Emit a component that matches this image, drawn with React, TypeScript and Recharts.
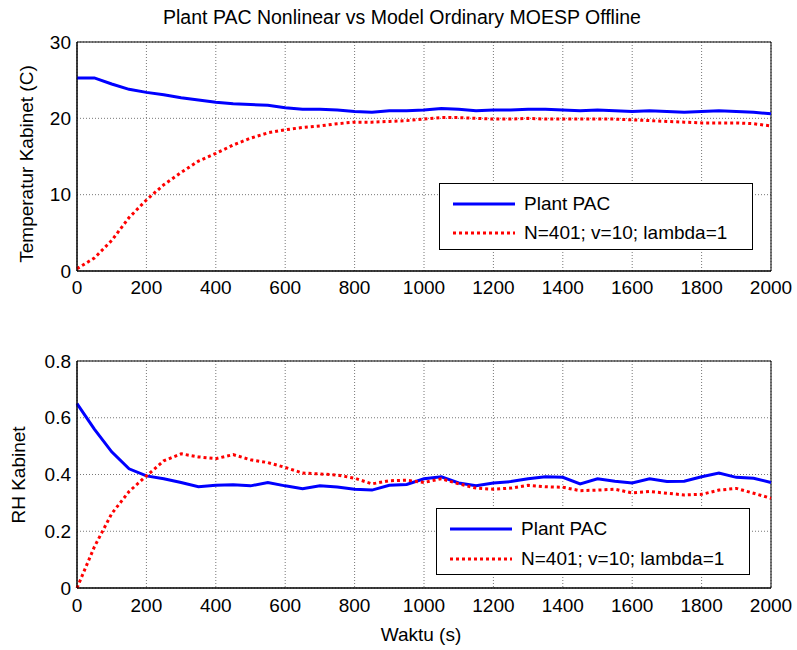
import { LineChart, Line, XAxis, YAxis, CartesianGrid, Legend, ReferenceArea } from 'recharts'

// time grid, every 50 s
const times = Array.from({ length: 41 }, (_, i) => i * 50)

const tempPlant = [
  25.3, 25.3, 24.5, 23.8, 23.4, 23.1, 22.7, 22.4, 22.1, 21.9,
  21.8, 21.7, 21.4, 21.2, 21.2, 21.1, 20.9, 20.8, 21.0, 21.0,
  21.1, 21.3, 21.2, 21.0, 21.1, 21.1, 21.2, 21.2, 21.1, 21.0,
  21.1, 21.0, 20.9, 21.0, 20.9, 20.8, 20.9, 21.0, 20.9, 20.8,
  20.6,
]
const tempModel = [
  0.3, 1.7, 4.0, 7.0, 9.3, 11.3, 12.9, 14.4, 15.4, 16.5,
  17.4, 18.1, 18.5, 18.8, 19.0, 19.3, 19.5, 19.5, 19.6, 19.7,
  19.9, 20.1, 20.1, 20.0, 19.9, 19.9, 20.0, 19.9, 19.9, 19.9,
  19.9, 19.9, 19.8, 19.7, 19.6, 19.5, 19.4, 19.4, 19.4, 19.3,
  19.0,
]
const rhPlant = [
  0.65, 0.56, 0.48, 0.42, 0.395, 0.385, 0.372, 0.357, 0.362, 0.364,
  0.36, 0.372, 0.36, 0.35, 0.36, 0.356, 0.348, 0.345, 0.362, 0.365,
  0.385, 0.392, 0.37, 0.36, 0.37, 0.375, 0.385, 0.392, 0.39, 0.367,
  0.385, 0.376, 0.37, 0.385, 0.375, 0.376, 0.392, 0.405, 0.39, 0.387,
  0.372,
]
const rhModel = [
  0.0, 0.145, 0.262, 0.34, 0.395, 0.448, 0.473, 0.462, 0.456, 0.47,
  0.452, 0.442, 0.425, 0.405, 0.402, 0.398, 0.387, 0.367, 0.378, 0.38,
  0.372, 0.385, 0.367, 0.352, 0.348, 0.352, 0.362, 0.357, 0.355, 0.343,
  0.345, 0.348, 0.335, 0.34, 0.334, 0.328, 0.33, 0.345, 0.351, 0.334,
  0.316,
]

const xTicks = [0, 200, 400, 600, 800, 1000, 1200, 1400, 1600, 1800, 2000]
const tempTicks = [0, 10, 20, 30]
const rhTicks = [0, 0.2, 0.4, 0.6, 0.8]
const plantName = 'Plant PAC'
const modelName = 'N=401; v=10; lambda=1'
const legendOrder = ['plant', 'model']

const tempData = times.map((t, i) => ({ t, plant: tempPlant[i], model: tempModel[i] }))
const rhData = times.map((t, i) => ({ t, plant: rhPlant[i], model: rhModel[i] }))

const FONT = '"Liberation Sans", Arial, Helvetica, sans-serif'
const tick = { fontSize: 19, fill: '#000' }
const gridColor = '#777'

function AxisTitle({ tx, ty, text, vertical }: any) {
  return (
    <text
      x={tx}
      y={ty}
      textAnchor="middle"
      dominantBaseline="central"
      transform={vertical ? `rotate(-90 ${tx} ${ty})` : undefined}
      fontSize={19}
      fill="#000"
    >
      {text}
    </text>
  )
}

function LegendBox({ payload, rowTop, rowGap }: any) {
  const items = [...(payload || [])].sort(
    (a: any, b: any) => legendOrder.indexOf(a.dataKey) - legendOrder.indexOf(b.dataKey)
  )
  return (
    <div
      style={{
        width: 314,
        height: 67,
        boxSizing: 'border-box',
        border: '1px solid #000',
        background: '#fff',
        position: 'relative',
      }}
    >
      {items.map((p: any, i: number) => (
        <div
          key={p.value}
          style={{
            position: 'absolute',
            left: 0,
            top: rowTop + i * rowGap - 15,
            height: 30,
            display: 'flex',
            alignItems: 'center',
          }}
        >
          <svg width={84} height={30}>
            <line
              x1={13}
              x2={75}
              y1={15}
              y2={15}
              stroke={p.color}
              strokeWidth={3}
              strokeDasharray={p.dataKey === 'model' ? '3 3' : undefined}
            />
          </svg>
          <span style={{ fontSize: 19, color: '#000', whiteSpace: 'nowrap' }}>{p.value}</span>
        </div>
      ))}
    </div>
  )
}

export default function App() {
  return (
    <div
      style={{
        position: 'absolute',
        left: 0,
        top: 0,
        width: 797,
        height: 650,
        background: '#fff',
        fontFamily: FONT,
      }}
    >
      <div
        style={{
          position: 'absolute',
          left: 0,
          top: 7,
          width: 804,
          textAlign: 'center',
          fontSize: 19.5,
          lineHeight: '21px',
          color: '#000',
        }}
      >
        Plant PAC Nonlinear vs Model Ordinary MOESP Offline
      </div>

      <div style={{ position: 'absolute', left: 0, top: 0 }}>
        <LineChart width={797} height={301} data={tempData} margin={{ top: 42, right: 26, bottom: 0, left: 0 }}>
          <CartesianGrid stroke={gridColor} strokeDasharray="1 2" />
          <XAxis
            dataKey="t"
            type="number"
            domain={[0, 2000]}
            ticks={xTicks}
            interval={0}
            tick={tick}
            tickLine={false}
            tickSize={6}
            tickMargin={4}
            height={30}
            axisLine={{ stroke: '#000' }}
          />
          <YAxis
            type="number"
            domain={[0, 30]}
            ticks={tempTicks}
            interval={0}
            tick={tick}
            tickLine={false}
            tickSize={4}
            tickMargin={2}
            width={77}
            axisLine={{ stroke: '#000' }}
            label={<AxisTitle tx={26} ty={164} text="Temperatur Kabinet (C)" vertical />}
          />
          <ReferenceArea x1={0} x2={2000} y1={0} y2={30} fill="none" stroke="#000" strokeWidth={1} />
          <Line
            type="linear"
            dataKey="plant"
            name={plantName}
            stroke="#0000ff"
            strokeWidth={3}
            dot={false}
            isAnimationActive={false}
          />
          <Line
            type="linear"
            dataKey="model"
            name={modelName}
            stroke="#ff0000"
            strokeWidth={3}
            strokeDasharray="3 3"
            dot={false}
            isAnimationActive={false}
          />
          <Legend
            layout="vertical"
            align="center"
            verticalAlign="middle"
            wrapperStyle={{ left: 439, top: 183, width: 314 }}
            content={<LegendBox rowTop={20} rowGap={29} />}
          />
        </LineChart>
      </div>

      <div style={{ position: 'absolute', left: 0, top: 330 }}>
        <LineChart width={797} height={320} data={rhData} margin={{ top: 31, right: 26, bottom: 32, left: 0 }}>
          <CartesianGrid stroke={gridColor} strokeDasharray="1 2" />
          <XAxis
            dataKey="t"
            type="number"
            domain={[0, 2000]}
            ticks={xTicks}
            interval={0}
            tick={tick}
            tickLine={false}
            tickSize={6}
            tickMargin={5}
            height={30}
            axisLine={{ stroke: '#000' }}
            label={<AxisTitle tx={421} ty={304} text="Waktu (s)" />}
          />
          <YAxis
            type="number"
            domain={[0, 0.8]}
            ticks={rhTicks}
            interval={0}
            tick={tick}
            tickLine={false}
            tickSize={4}
            tickMargin={2}
            width={77}
            axisLine={{ stroke: '#000' }}
            label={<AxisTitle tx={18} ty={145} text="RH Kabinet" vertical />}
          />
          <ReferenceArea x1={0} x2={2000} y1={0} y2={0.8} fill="none" stroke="#000" strokeWidth={1} />
          <Line
            type="linear"
            dataKey="plant"
            name={plantName}
            stroke="#0000ff"
            strokeWidth={3}
            dot={false}
            isAnimationActive={false}
          />
          <Line
            type="linear"
            dataKey="model"
            name={modelName}
            stroke="#ff0000"
            strokeWidth={3}
            strokeDasharray="3 3"
            dot={false}
            isAnimationActive={false}
          />
          <Legend
            layout="vertical"
            align="center"
            verticalAlign="middle"
            wrapperStyle={{ left: 436, top: 178, width: 314 }}
            content={<LegendBox rowTop={20} rowGap={30} />}
          />
        </LineChart>
      </div>
    </div>
  )
}
